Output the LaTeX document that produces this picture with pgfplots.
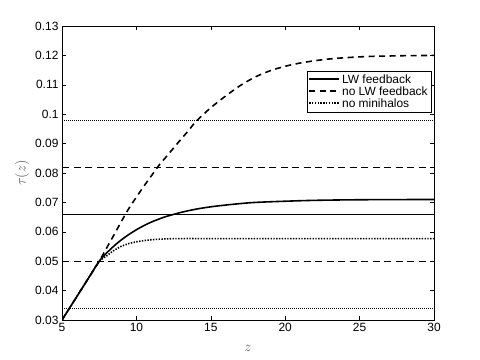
\documentclass[border=0pt]{standalone}
\usepackage{pgfplots}
\pgfplotsset{compat=1.18}
\usepackage{fontspec}
\setmainfont{Liberation Sans}
\definecolor{lblgrey}{HTML}{555555}

% tau(z) curves
\newcommand{\rise}{(5,0.030) (5.5,0.034) (6,0.038) (6.5,0.042) (7,0.046) (7.5,0.050)}

\begin{document}
\begin{tikzpicture}
\path[use as bounding box] (-62bp,-40bp) rectangle (418bp,320bp);
\begin{axis}[
  at={(0,0)}, anchor=south west,
  width=372bp, height=294bp, scale only axis,
  xmin=5, xmax=30, ymin=0.03, ymax=0.13,
  xtick={5,10,15,20,25,30},
  ytick={0.03,0.04,0.05,0.06,0.07,0.08,0.09,0.1,0.11,0.12,0.13},
  scaled y ticks=false,
  yticklabel style={/pgf/number format/fixed,/pgf/number format/precision=2},
  /pgf/number format/assume math mode=true,
  tick label style={font=\fontsize{12}{13}\selectfont, black},
  tick align=inside, major tick length=4bp,
  axis line style={line width=0.6pt},
  every tick/.style={black, line width=0.5pt},
  xlabel={\fontsize{15}{16}\selectfont$z$},
  ylabel={\fontsize{15}{16}\selectfont$\tau(z)$},
  label style={text=lblgrey},
  xlabel style={at={(axis description cs:0.5,-0.095)}, anchor=center},
  ylabel style={at={(axis description cs:-0.1075,0.5)}, anchor=center},
  legend style={at={(0.992,0.847)}, anchor=north east, draw=black,
    font=\fontsize{12}{12.5}\selectfont, inner sep=1.2pt, row sep=-2pt,
    /tikz/every odd column/.append style={column sep=0pt},
    /tikz/every even column/.append style={column sep=8bp}},
  legend cell align=left,
  legend image code/.code={\draw[#1, line width=1.8pt] (0cm,0.5bp) -- (30bp,0.5bp);},
]
% reference levels
\addplot[forget plot, black, line width=0.5pt, dash pattern=on 0.8bp off 1.2bp] coordinates {(5,0.098) (30,0.098)};
\addplot[forget plot, black, line width=0.5pt, dash pattern=on 7bp off 4.5bp] coordinates {(5,0.082) (30,0.082)};
\addplot[forget plot, black, line width=0.6pt] coordinates {(5,0.066) (30,0.066)};
\addplot[forget plot, black, line width=0.5pt, dash pattern=on 7bp off 4.5bp] coordinates {(5,0.050) (30,0.050)};
\addplot[forget plot, black, line width=0.5pt, dash pattern=on 0.8bp off 1.2bp] coordinates {(5,0.034) (30,0.034)};
% LW feedback
\addplot[black, line width=1.6pt, smooth, solid] coordinates {
  \rise (8,0.0528) (8.5,0.0552) (9,0.0573) (9.5,0.0591) (10,0.0607) (10.5,0.0621)
  (11,0.0633) (11.5,0.0643) (12,0.0652) (13,0.0666) (14,0.0677) (15,0.0685)
  (16,0.0691) (17,0.0696) (18,0.0700) (20,0.0704) (22,0.0707) (25,0.0709) (30,0.0710)};
\addlegendentry{LW feedback}
% no LW feedback
\addplot[black, line width=1.6pt, smooth, dash pattern=on 6bp off 4.5bp] coordinates {
  \rise (8,0.0545) (8.5,0.0590) (9,0.0636) (9.5,0.0680) (10,0.0718) (10.5,0.0755)
  (11,0.0790) (11.5,0.0825) (12,0.0855) (12.5,0.0885) (13,0.0915) (13.5,0.0944)
  (14,0.0975) (15,0.1022) (16,0.1062) (17,0.1098) (18,0.1127) (19,0.1148)
  (20,0.1163) (21,0.1174) (22,0.1182) (23,0.1188) (24,0.1192) (25,0.1195)
  (26,0.1197) (27,0.1198) (28,0.1199) (30,0.1200)};
\addlegendentry{no LW feedback}
% no minihalos
\addplot[black, line width=1.6pt, smooth, dash pattern=on 1.4bp off 1.4bp] coordinates {
  \rise (8,0.0518) (8.5,0.0537) (9,0.0551) (9.5,0.0560) (10,0.0566) (10.5,0.0570)
  (11,0.0573) (12,0.0576) (13,0.0577) (15,0.0577) (20,0.0577) (30,0.0577)};
\addlegendentry{no minihalos}
\end{axis}
\end{tikzpicture}
\end{document}
